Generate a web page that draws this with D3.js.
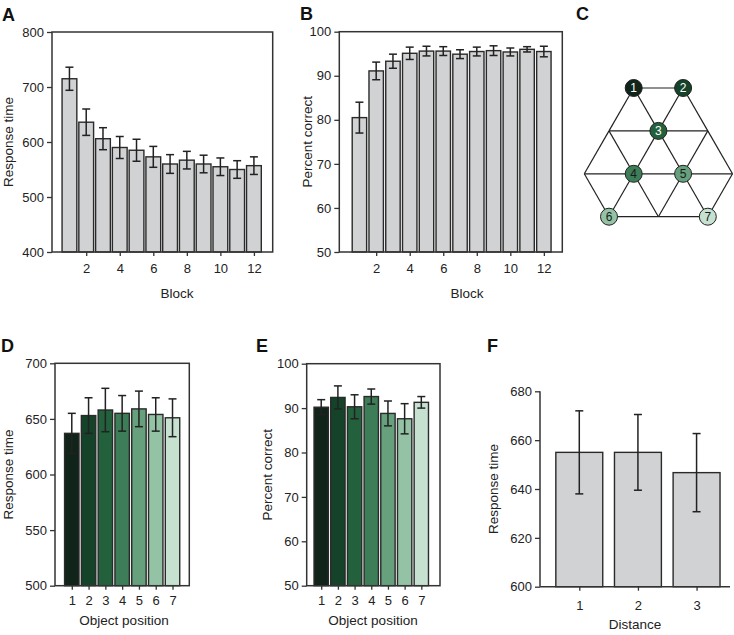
<!DOCTYPE html>
<html><head><meta charset="utf-8">
<script src="https://cdn.jsdelivr.net/npm/d3@7"></script>
<style>
body{margin:0;background:#fff;}
svg{display:block;font-family:"Liberation Sans",Arial,sans-serif;}
</style></head><body>
<svg id="c" width="734" height="635"></svg>
<script>
// ---- data ----
const blocks = [1,2,3,4,5,6,7,8,9,10,11,12];
const blockTicks = [2,4,6,8,10,12];
const rtBlock = [715,636,606,590,585,573,560,567,560,555,550,557];
const rtBlockErr = [21,24,20,20,20,19,17,16,16,16,16,16];
const pcBlock = [80.5,91.1,93.3,95.1,95.6,95.6,94.9,95.5,95.7,95.4,96.0,95.5];
const pcBlockErr = [3.5,2.0,1.6,1.4,1.1,1.0,1.0,1.0,1.1,0.9,0.6,1.2];
const positions = [1,2,3,4,5,6,7];
const rtPos = [637,653,658,655,659,654,651];
const rtPosErr = [18,16,19.5,16,16,15,17];
const pcPos = [90.2,92.4,90.3,92.6,88.8,87.6,91.3];
const pcPosErr = [1.7,2.6,2.7,1.7,2.8,3.4,1.3];
const distances = [1,2,3];
const rtDist = [655,655,646.7];
const rtDistErr = [17,15.5,16];
const posColors = ["#10241a","#15432a","#23613d","#3d7e58","#66a07d","#93c2a5","#c6e1d0"];
const rtTicksA = [400,500,600,700,800];
const pcTicks = [50,60,70,80,90,100];
const rtTicksD = [500,550,600,650,700];
const rtTicksF = [600,620,640,660,680];
// panel C lattice: nodes in (half-column u, row r)
const nodeLabels = [1,2,3,4,5,6,7];
const nodeU = [2,4,3,2,4,1,5];
const nodeR = [0,0,1,2,2,3,3];
const latticeRows = [[2,4],[1,3,5],[0,2,4,6],[1,3,5]];

const svg = d3.select("#c");
const INK = "#222";

function panelLetter(t,x,y){
  svg.append("text").attr("x",x).attr("y",y).attr("font-size",18).attr("font-weight","bold").attr("fill","#111").text(t);
}

function barPanel(o){
  const g = svg.append("g");
  const x = d3.scaleLinear().domain(o.xDomain).range([o.left,o.right]);
  const y = d3.scaleLinear().domain(o.yDomain).range([o.bottom,o.top]);
  const step = x(1)-x(0);
  const bw = step*o.barFrac;
  // bars
  g.selectAll("rect.bar").data(o.cats).join("rect")
    .attr("x",(d)=>x(d)-bw/2).attr("width",bw)
    .attr("y",(d,i)=>y(o.vals[i])).attr("height",(d,i)=>y(o.yDomain[0])-y(o.vals[i]))
    .attr("fill",(d,i)=>o.colors?o.colors[i]:"#d1d2d4")
    .attr("stroke","#2a2a2a").attr("stroke-width",1.4);
  // error bars
  const cap = 4;
  const eg = g.selectAll("g.err").data(o.cats).join("g");
  eg.append("line").attr("x1",d=>x(d)).attr("x2",d=>x(d))
    .attr("y1",(d,i)=>y(o.vals[i]+o.errs[i])).attr("y2",(d,i)=>y(o.vals[i]-o.errs[i]));
  eg.append("line").attr("x1",d=>x(d)-cap).attr("x2",d=>x(d)+cap)
    .attr("y1",(d,i)=>y(o.vals[i]+o.errs[i])).attr("y2",(d,i)=>y(o.vals[i]+o.errs[i]));
  eg.append("line").attr("x1",d=>x(d)-cap).attr("x2",d=>x(d)+cap)
    .attr("y1",(d,i)=>y(o.vals[i]-o.errs[i])).attr("y2",(d,i)=>y(o.vals[i]-o.errs[i]));
  eg.selectAll("line").attr("stroke",INK).attr("stroke-width",1.5);
  // frame
  if(o.frame){
    g.append("rect").attr("x",o.left).attr("y",o.top).attr("width",o.right-o.left).attr("height",o.bottom-o.top)
      .attr("fill","none").attr("stroke","#333").attr("stroke-width",1.5);
  } else {
    g.append("line").attr("x1",o.left).attr("x2",o.left).attr("y1",o.top).attr("y2",o.bottom).attr("stroke","#333").attr("stroke-width",1.5);
    g.append("line").attr("x1",o.left).attr("x2",o.axisRight).attr("y1",o.bottom).attr("y2",o.bottom).attr("stroke","#333").attr("stroke-width",1.5);
  }
  // y axis
  const ya = d3.axisLeft(y).tickValues(o.yTicks).tickSize(5).tickPadding(3).tickFormat(d3.format("d"));
  const yg = g.append("g").attr("transform",`translate(${o.left},0)`).call(ya);
  yg.select(".domain").remove();
  // x axis
  const xa = d3.axisBottom(x).tickValues(o.xTicks).tickSize(4).tickPadding(o.xPad).tickFormat(d3.format("d"));
  const xg = g.append("g").attr("transform",`translate(0,${o.bottom})`).call(xa);
  xg.select(".domain").remove();
  [yg,xg].forEach(a=>{
    a.attr("font-family",null).attr("font-size",null);
    a.selectAll("line").attr("stroke","#333").attr("stroke-width",1.3);
    a.selectAll("text").attr("fill",INK).attr("font-size",13);
  });
  // titles
  g.append("text").attr("transform",`translate(${o.yTitleX},${(o.top+o.bottom)/2}) rotate(-90)`)
    .attr("text-anchor","middle").attr("font-size",13.5).attr("fill",INK).text(o.yTitle);
  g.append("text").attr("x",o.xTitleX).attr("y",o.xTitleY)
    .attr("text-anchor","middle").attr("font-size",13.5).attr("fill",INK).text(o.xTitle);
}

// A
barPanel({cats:blocks,vals:rtBlock,errs:rtBlockErr,xDomain:[-0.04,13.12],left:52,right:272.7,top:32,bottom:252,
  yDomain:[400,800],yTicks:rtTicksA,xTicks:blockTicks,barFrac:0.88,frame:true,xPad:8,
  yTitle:"Response time",yTitleX:13,xTitle:"Block",xTitleX:177,xTitleY:298});
// B
barPanel({cats:blocks,vals:pcBlock,errs:pcBlockErr,xDomain:[-0.2,13.1],left:339.3,right:562.3,top:31.7,bottom:252,
  yDomain:[50,100],yTicks:pcTicks,xTicks:blockTicks,barFrac:0.86,frame:true,xPad:8,
  yTitle:"Percent correct",yTitleX:311.5,xTitle:"Block",xTitleX:467,xTitleY:298});
// D
barPanel({cats:positions,vals:rtPos,errs:rtPosErr,xDomain:[0,8],left:55,right:189.3,top:363.3,bottom:585.7,
  yDomain:[500,700],yTicks:rtTicksD,xTicks:positions,barFrac:0.86,frame:true,xPad:6,colors:posColors,
  yTitle:"Response time",yTitleX:12.5,xTitle:"Object position",xTitleX:124,xTitleY:625});
// E
barPanel({cats:positions,vals:pcPos,errs:pcPosErr,xDomain:[0.13,8.12],left:306.7,right:440,top:363.7,bottom:585.7,
  yDomain:[50,100],yTicks:pcTicks,xTicks:positions,barFrac:0.86,frame:true,xPad:6,colors:posColors,
  yTitle:"Percent correct",yTitleX:271.5,xTitle:"Object position",xTitleX:373,xTitleY:625});
// F
barPanel({cats:distances,vals:rtDist,errs:rtDistErr,xDomain:[0.33,3.57],left:540,right:730,axisRight:730,top:391.3,bottom:586.7,
  yDomain:[600,680],yTicks:rtTicksF,xTicks:distances,barFrac:0.8,frame:false,xPad:10,
  yTitle:"Response time",yTitleX:498,xTitle:"Distance",xTitleX:635,xTitleY:629});

// C lattice
const xC = d3.scaleLinear().domain([0,6]).range([584.3,732.5]);
const yC = d3.scaleLinear().domain([0,3]).range([88,216.7]);
const pts = [];
latticeRows.forEach((row,r)=>row.forEach(u=>pts.push({u,r})));
const has = (u,r)=>pts.some(p=>p.u===u&&p.r===r);
const edges = [];
pts.forEach(p=>{
  [[2,0],[1,1],[-1,1]].forEach(([du,dr])=>{ if(has(p.u+du,p.r+dr)) edges.push([p,{u:p.u+du,r:p.r+dr}]); });
});
const gc = svg.append("g");
gc.selectAll("line").data(edges).join("line")
  .attr("x1",d=>xC(d[0].u)).attr("y1",d=>yC(d[0].r)).attr("x2",d=>xC(d[1].u)).attr("y2",d=>yC(d[1].r))
  .attr("stroke",INK).attr("stroke-width",1.2);
const ng = gc.selectAll("g.node").data(nodeLabels).join("g")
  .attr("transform",(d,i)=>`translate(${xC(nodeU[i])},${yC(nodeR[i])})`);
ng.append("circle").attr("r",8.5).attr("fill",(d,i)=>posColors[i]).attr("stroke","#222").attr("stroke-width",1);
ng.append("text").attr("text-anchor","middle").attr("dy","0.36em").attr("font-size",12)
  .attr("fill",(d,i)=>i<3?"#fff":"#1a1a1a").text(d=>d);

panelLetter("A",2,21);
panelLetter("B",300,20);
panelLetter("C",576,20);
panelLetter("D",1,352);
panelLetter("E",256,352);
panelLetter("F",487,352);
</script>
</body></html>
